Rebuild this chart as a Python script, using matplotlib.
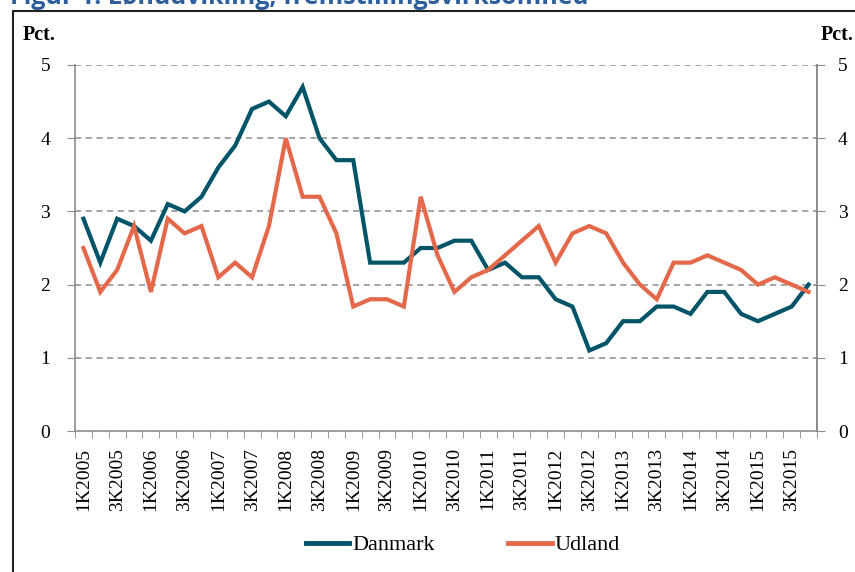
import matplotlib
matplotlib.use("Agg")
import matplotlib.pyplot as plt
from matplotlib.lines import Line2D

quarters = [f"{q}K{y}" for y in range(2005, 2016) for q in (1, 2, 3, 4)]
danmark = [2.9, 2.3, 2.9, 2.8, 2.6, 3.1, 3.0, 3.2, 3.6, 3.9,
           4.4, 4.5, 4.3, 4.7, 4.0, 3.7, 3.7, 2.3, 2.3, 2.3,
           2.5, 2.5, 2.6, 2.6, 2.2, 2.3, 2.1, 2.1, 1.8, 1.7,
           1.1, 1.2, 1.5, 1.5, 1.7, 1.7, 1.6, 1.9, 1.9, 1.6,
           1.5, 1.6, 1.7, 2.0]
udland = [2.5, 1.9, 2.2, 2.8, 1.9, 2.9, 2.7, 2.8, 2.1, 2.3,
          2.1, 2.8, 4.0, 3.2, 3.2, 2.7, 1.7, 1.8, 1.8, 1.7,
          3.2, 2.4, 1.9, 2.1, 2.2, 2.4, 2.6, 2.8, 2.3, 2.7,
          2.8, 2.7, 2.3, 2.0, 1.8, 2.3, 2.3, 2.4, 2.3, 2.2,
          2.0, 2.1, 2.0, 1.9]
yticks = [0, 1, 2, 3, 4, 5]

serif = ["Liberation Serif", "DejaVu Serif"]
plt.rcParams["font.family"] = serif

c_dk = "#005468"
c_ud = "#E4684A"
gray = "#8c8c8c"

fig = plt.figure(figsize=(8.55, 5.72), dpi=100)
ax = fig.add_axes([75/855, 141/572, (817-75)/855, (431-65)/572])

x = list(range(len(quarters)))
ax.plot(x, danmark, color=c_dk, lw=3.0, solid_joinstyle="miter", label="Danmark", zorder=3)
ax.plot(x, udland, color=c_ud, lw=3.0, solid_joinstyle="miter", label="Udland", zorder=3)

ax.set_xlim(-0.5, len(quarters) - 0.5)
ax.set_ylim(0, 5)
ax.set_yticks(yticks)
ax.set_yticklabels([str(v) for v in yticks], fontsize=14)
ax.tick_params(axis="y", direction="out", length=6, color=gray, pad=12)

ax.set_xticks(x[::2])
ax.set_xticklabels(quarters[::2], rotation=90, fontsize=14)
ax.set_xticks([i - 0.5 for i in range(len(quarters) + 1)], minor=True)
ax.tick_params(axis="x", which="major", length=0, pad=12)
ax.tick_params(axis="x", which="minor", length=5, color=gray, direction="out")

for v in yticks[1:]:
    ax.axhline(v, color=gray, lw=1.1, ls=(0, (4, 3)), zorder=1)

ax.spines["top"].set_visible(False)
for s in ("left", "right", "bottom"):
    ax.spines[s].set_color(gray)
    ax.spines[s].set_linewidth(1.2)

ax2 = ax.twinx()
ax2.set_ylim(0, 5)
ax2.set_yticks(yticks)
ax2.set_yticklabels([str(v) for v in yticks], fontsize=14)
ax2.tick_params(axis="y", direction="out", length=6, color=gray, pad=9)
for s in ("top", "left", "bottom"):
    ax2.spines[s].set_visible(False)
ax2.spines["right"].set_color(gray)
ax2.spines["right"].set_linewidth(1.2)

fig.text(23/855, 1 - 40/572, "Pct.", fontsize=14.5, fontweight="bold", ha="left", va="baseline")
fig.text(854/855, 1 - 40/572, "Pct.", fontsize=14.5, fontweight="bold", ha="right", va="baseline")

leg = fig.legend(loc="center", bbox_to_anchor=(463/855, 27/572), ncol=2, frameon=False,
                 fontsize=16, handlelength=1.95, handletextpad=0.15, columnspacing=3.3)
for h in leg.get_lines():
    h.set_linewidth(3.5)

# frame of the original page box
fig.add_artist(Line2D([13/855, 13/855, 1.0], [0, 1 - 11/572, 1 - 11/572],
                      transform=fig.transFigure, color="#222222", lw=1.5))

# cropped title at the top (cut off in the reference as well)
fig.text(10/855, 1 - 4/572, "Figur 1. Lønudvikling, fremstillingsvirksomhed",
         fontsize=18, fontweight="bold", color="#2E5F9C", ha="left", va="baseline",
         family=["Open Sans", "DejaVu Sans"])

fig.savefig("out.png", dpi=100)
